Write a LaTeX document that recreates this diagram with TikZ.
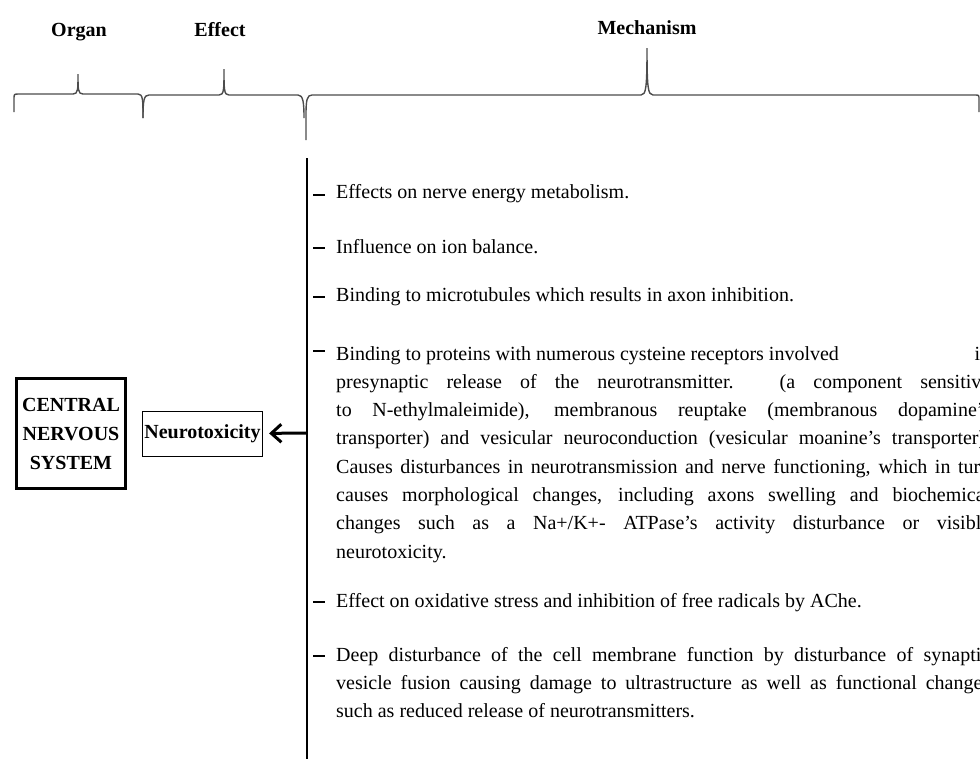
\documentclass[tikz,border=0pt]{standalone}
\usepackage{fontspec}
\setmainfont{Liberation Serif}
\usetikzlibrary{arrows.meta}

\newlength{\parw}\setlength{\parw}{654pt}
\newcommand{\jline}[1]{\makebox[\parw][s]{#1}}
\newcommand{\mechpar}[1]{\parbox[t]{\parw}{#1}}

\begin{document}
\begin{tikzpicture}[
    x=1pt, y=-1pt,
    >={Straight Barb[length=10pt, width=18pt]},
    head/.style={font=\fontsize{20}{24}\selectfont\bfseries, anchor=base},
    organbox/.style={draw, line width=3pt, minimum width=109pt, minimum height=110pt, align=center, inner sep=0pt, font=\fontsize{20}{29}\selectfont\bfseries},
    effectbox/.style={draw, line width=1.2pt, minimum width=120pt, minimum height=45pt, inner sep=0pt, font=\fontsize{20}{24}\selectfont\bfseries},
    item/.style={anchor=base west, inner sep=0pt, font=\fontsize{20}{28.3}\selectfont},
    bracket/.style={line width=1.4pt, draw=black!70},
    dashmark/.style={line width=2pt}
]
    \useasboundingbox (0,0) rectangle (980,758);
    \clip (0,0) rectangle (980,758);

    % Headers
    \node[head] (organ) at (79,36) {Organ};
    \node[head] (effect) at (220,36) {Effect};
    \node[head] (mech) at (647,34) {Mechanism};

    % Brackets
    \draw[bracket] (14,112) -- (14,99) .. controls (14,94) .. (19,94) -- (73,94)
        .. controls (78,94) and (78,90) .. (78,74) .. controls (78,90) and (78,94) .. (83,94)
        -- (138,94) .. controls (143,94) and (143,100) .. (143,118);
    \draw[bracket] (143,118) .. controls (143,100) and (144,95) .. (149,95) -- (219,95)
        .. controls (224,95) and (224,90) .. (224,69) .. controls (224,90) and (224,95) .. (229,95)
        -- (298,95) .. controls (303,95) and (304,102) .. (304,118);
    \draw[bracket] (306,140) -- (306,115) .. controls (306,100) and (307,95) .. (312,95) -- (641,95)
        .. controls (646,95) and (647,88) .. (647,48) .. controls (647,88) and (648,95) .. (653,95)
        -- (975,95) .. controls (979,95) .. (979,100) -- (979,112);

    % Organ and effect
    \node[organbox] (cns) at (71,433.5) {CENTRAL\\NERVOUS\\SYSTEM};
    \node[effectbox] (neuro) at (202.5,434) {Neurotoxicity};

    % Mechanism line
    \coordinate (vtop) at (307,158);
    \coordinate (vmid) at (307,433);
    \coordinate (vbot) at (307,760);
    \draw[line width=2pt] (vtop) -- (vbot);
    \draw[->, line width=3pt, shorten >=6pt] (vmid) -- (neuro);

    % Mechanisms
    \node[item] (m1) at (336,198) {Effects on nerve energy metabolism.};
    \node[item] (m2) at (336,253) {Influence on ion balance.};
    \node[item] (m3) at (336,301) {Binding to microtubules which results in axon inhibition.};
    \node[item] (m4) at (336,360) {\mechpar{%
        \jline{Binding to proteins with numerous cysteine receptors involved\hfill in}\\
        \jline{presynaptic release of the neurotransmitter. (a component sensitive}\\
        \jline{to N-ethylmaleimide), membranous reuptake (membranous dopamine's}\\
        \jline{transporter) and vesicular neuroconduction (vesicular moanine's transporter).}\\
        \jline{Causes disturbances in neurotransmission and nerve functioning, which in turn}\\
        \jline{causes morphological changes, including axons swelling and biochemical}\\
        \jline{changes such as a Na+/K+- ATPase's activity disturbance or visible}\\
        neurotoxicity.}};
    \node[item] (m5) at (336,607) {Effect on oxidative stress and inhibition of free radicals by AChe.};
    \node[item] (m6) at (336,661) {\mechpar{%
        \jline{Deep disturbance of the cell membrane function by disturbance of synaptic}\\
        \jline{vesicle fusion causing damage to ultrastructure as well as functional changes}\\
        such as reduced release of neurotransmitters.}};

    % Dashes
    \foreach \m/\s in {m1/3, m2/5, m3/4, m4/9, m5/5, m6/5}
        \draw[dashmark] ([xshift=-23pt, yshift=\s pt]\m.base west) -- ++(12,0);

\end{tikzpicture}
\end{document}
